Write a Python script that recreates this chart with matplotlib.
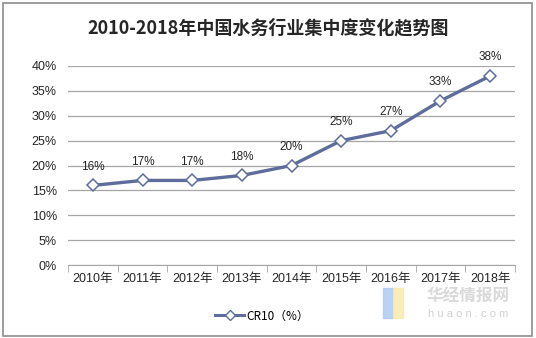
import matplotlib.pyplot as plt
from matplotlib.lines import Line2D
from matplotlib.patches import Rectangle

plt.rcParams['font.family'] = ['Liberation Sans', 'Noto Sans CJK SC', 'DejaVu Sans']

years = ['2010年', '2011年', '2012年', '2013年', '2014年', '2015年', '2016年', '2017年', '2018年']
cr10 = [16, 17, 17, 18, 20, 25, 27, 33, 38]
yticks = [0, 5, 10, 15, 20, 25, 30, 35, 40]

line_color = '#5f6d9c'
grid_color = '#a6a6a6'

fig = plt.figure(figsize=(5.36, 3.38), dpi=100)
# outer border
fig.patches.append(Rectangle((3 / 536, 2 / 338), 529 / 536, 333 / 338, transform=fig.transFigure,
                             fill=False, edgecolor='#8c8c8c', linewidth=1.2))

ax = fig.add_axes([68 / 536, 73 / 338, 447 / 536, 199 / 338])
x = list(range(len(years)))
ax.plot(x, cr10, color=line_color, linewidth=2.4, marker='D', markersize=6,
        markerfacecolor='white', markeredgecolor=line_color, markeredgewidth=1.1, zorder=3)
for xi, v in zip(x, cr10):
    ax.annotate(f'{v}%', (xi, v), xytext=(0, 9), textcoords='offset points',
                ha='center', va='bottom', fontsize=8.5, color='#262626')

ax.set_xlim(-0.5, len(years) - 0.5)
ax.set_ylim(0, 40)
ax.set_yticks(yticks)
ax.set_yticklabels([f'{t}%' for t in yticks], fontsize=9, color='#262626')
ax.set_xticks(x)
ax.set_xticklabels(years, fontsize=9, color='#262626')
ax.set_xticks([i - 0.5 for i in range(len(years) + 1)], minor=True)
ax.tick_params(axis='x', which='major', length=0, pad=6)
ax.tick_params(axis='x', which='minor', length=5, color=grid_color)
ax.tick_params(axis='y', length=0, pad=8)
ax.grid(axis='y', color=grid_color, linewidth=0.9)
ax.set_axisbelow(True)
for s in ['left', 'right', 'top']:
    ax.spines[s].set_visible(False)
ax.spines['bottom'].set_color(grid_color)

fig.text(268 / 536, 1 - 28 / 338, '2010-2018年中国水务行业集中度变化趋势图', ha='center', va='center',
         fontsize=13, fontweight='bold', family=['Noto Sans CJK SC', 'DejaVu Sans'], color='#262626')

# legend
handle = Line2D([], [], color=line_color, linewidth=2.2, marker='D', markersize=5,
                markerfacecolor='white', markeredgecolor=line_color)
fig.legend([handle], ['CR10（%）'], loc='center', bbox_to_anchor=(262 / 536, 1 - 316 / 338),
           frameon=False, handlelength=2.5, handletextpad=0.2,
           prop={'family': ['Noto Sans CJK SC', 'DejaVu Sans'], 'size': 8.5})

# watermark
fig.patches.append(Rectangle((383 / 536, 1 - 318 / 338), 10 / 536, 30 / 338, transform=fig.transFigure,
                             color='#a8c8f5', alpha=0.8))
fig.patches.append(Rectangle((393 / 536, 1 - 318 / 338), 10 / 536, 30 / 338, transform=fig.transFigure,
                             color='#fbe9a5', alpha=0.8))
fig.text(468 / 536, 1 - 297 / 338, '华经情报网', ha='center', va='center', fontsize=12, fontweight='bold',
         color='#d9d9d9', family=['Noto Sans CJK SC', 'DejaVu Sans'])
fig.text(468 / 536, 1 - 314 / 338, 'h u a o n . c o m', ha='center', va='center', fontsize=8,
         color='#d0d0d0')

fig.savefig('out.png', dpi=100)
